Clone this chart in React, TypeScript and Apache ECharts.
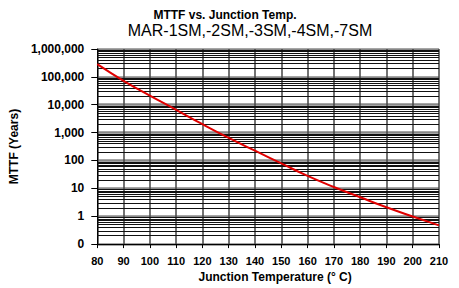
import React, { useEffect, useRef } from "react";
import * as echarts from "echarts";

const temps = [80, 90, 100, 110, 120, 130, 140, 150, 160, 170, 180, 190, 200, 210];
const mttfYears = [286000, 72000, 21400, 6600, 2000, 645, 224, 79, 28, 11.2, 4.8, 2.1, 0.98, 0.47];
const decades = [0.1, 1, 10, 100, 1000, 10000, 100000, 1000000];
const minorSteps = [2, 3, 4, 5, 6, 7, 8, 9];

const FONT = "'Liberation Sans', Arial, Helvetica, sans-serif";

export default function App() {
  const ref = useRef<HTMLDivElement>(null);
  useEffect(() => {
    if (!ref.current) return;
    document.body.style.margin = "0";
    const chart = echarts.init(ref.current, undefined, { renderer: "svg" });
    const minorLines: { yAxis: number }[] = [];
    decades.slice(0, -1).forEach((d) => minorSteps.forEach((m) => minorLines.push({ yAxis: d * m })));
    chart.setOption({
      animation: false,
      backgroundColor: "#ffffff",
      textStyle: { fontFamily: FONT },
      grid: { left: 87, right: 20, top: 49, bottom: 36 },
      graphic: [
        {
          type: "text",
          x: 225,
          y: 15,
          style: {
            text: "MTTF vs. Junction Temp.",
            fontFamily: FONT,
            fontSize: 12,
            fontWeight: "bold",
            fill: "#000",
            textAlign: "center",
            textVerticalAlign: "middle",
          },
        },
        {
          type: "text",
          x: 250,
          y: 30,
          style: {
            text: "MAR-1SM,-2SM,-3SM,-4SM,-7SM",
            fontFamily: FONT,
            fontSize: 16,
            fill: "#000",
            textAlign: "center",
            textVerticalAlign: "middle",
          },
        },
      ],
      xAxis: {
        type: "value",
        min: 80,
        max: 210,
        interval: 10,
        name: "Junction Temperature (° C)",
        nameLocation: "middle",
        nameGap: 21,
        nameTextStyle: { fontFamily: FONT, fontSize: 12, fontWeight: "bold", color: "#000", padding: [0, 0, 0, 14] },
        axisLine: { show: true, lineStyle: { color: "#000", width: 1 } },
        axisTick: { show: true, inside: false, length: 4, lineStyle: { color: "#000" } },
        axisLabel: { fontFamily: FONT, fontSize: 11, fontWeight: "bold", color: "#000", margin: 11 },
        splitLine: { show: true, lineStyle: { color: "#444", width: 1.5 } },
      },
      yAxis: {
        type: "log",
        logBase: 10,
        min: 0.1,
        max: 1000000,
        name: "MTTF (Years)",
        nameLocation: "middle",
        nameGap: 58,
        nameTextStyle: { fontFamily: FONT, fontSize: 12, fontWeight: "bold", color: "#000" },
        axisLine: { show: true, lineStyle: { color: "#000", width: 1 } },
        axisTick: { show: true, inside: false, length: 6, lineStyle: { color: "#000" } },
        axisLabel: {
          fontFamily: FONT,
          fontSize: 12,
          fontWeight: "bold",
          color: "#000",
          margin: 13,
          formatter: (v: number) => (v < 1 ? "0" : Math.round(v).toLocaleString("en-US")),
        },
        splitLine: { show: true, lineStyle: { color: "#888", width: 2.5 } },
      },
      series: [
        {
          type: "line",
          data: [],
          z: 1,
          silent: true,
          markLine: {
            silent: true,
            symbol: ["none", "none"],
            label: { show: false },
            lineStyle: { color: "#111", width: 1, type: "solid" },
            data: minorLines,
          },
        },
        {
          type: "line",
          z: 5,
          data: temps.map((t, i) => [t, mttfYears[i]]),
          smooth: true,
          showSymbol: false,
          lineStyle: { color: "#e00000", width: 2 },
        },
      ],
    });
    return () => chart.dispose();
  }, []);
  return <div ref={ref} style={{ width: 459, height: 288 }} />;
}
